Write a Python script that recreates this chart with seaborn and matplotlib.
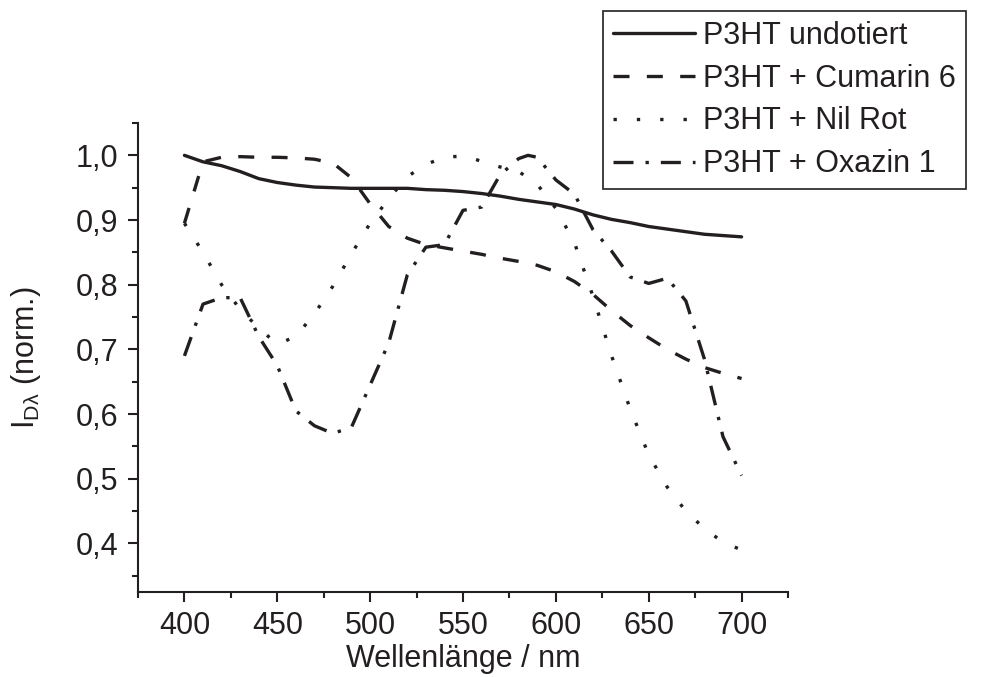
import matplotlib
matplotlib.use("Agg")
import matplotlib.pyplot as plt
import seaborn as sns
import pandas as pd
from matplotlib.ticker import MultipleLocator, FuncFormatter

# ---- data -------------------------------------------------------------
wl_10 = [400, 410, 420, 430, 440, 450, 460, 470, 480, 490, 500, 510, 520,
         530, 540, 550, 560, 570, 580, 590, 600, 610, 620, 630, 640, 650,
         660, 670, 680, 690, 700]

undotiert = [1.000, 0.990, 0.984, 0.975, 0.964, 0.958, 0.954, 0.951, 0.950,
             0.949, 0.949, 0.949, 0.949, 0.947, 0.946, 0.944, 0.941, 0.937,
             0.932, 0.928, 0.924, 0.917, 0.908, 0.901, 0.896, 0.890, 0.886,
             0.882, 0.878, 0.876, 0.874]

cumarin6 = [0.895, 0.990, 0.997, 0.998, 0.997, 0.997, 0.996, 0.994, 0.988,
            0.965, 0.925, 0.890, 0.872, 0.862, 0.857, 0.852, 0.847, 0.841,
            0.836, 0.830, 0.820, 0.805, 0.785, 0.760, 0.737, 0.718, 0.700,
            0.685, 0.672, 0.663, 0.655]

nilrot = [0.895, 0.850, 0.800, 0.762, 0.733, 0.708, 0.720, 0.755, 0.798,
          0.848, 0.895, 0.933, 0.967, 0.986, 0.997, 0.999, 0.991, 0.982,
          0.975, 0.955, 0.918, 0.865, 0.782, 0.690, 0.608, 0.537, 0.487,
          0.450, 0.423, 0.402, 0.390]

wl_oxazin = [400, 410, 420, 430, 440, 450, 460, 470, 480, 490, 500, 510,
             520, 530, 540, 550, 560, 570, 580, 585, 590, 600, 610, 620,
             630, 640, 650, 660, 670, 680, 690, 700]
oxazin1 = [0.690, 0.770, 0.780, 0.780, 0.720, 0.675, 0.605, 0.582, 0.570,
           0.580, 0.645, 0.710, 0.815, 0.858, 0.862, 0.915, 0.920, 0.970,
           0.995, 1.000, 0.997, 0.962, 0.940, 0.885, 0.852, 0.812, 0.802,
           0.810, 0.775, 0.685, 0.565, 0.505]

labels = ["P3HT undotiert", "P3HT + Cumarin 6", "P3HT + Nil Rot",
          "P3HT + Oxazin 1"]
x_ticks = [400, 450, 500, 550, 600, 650, 700]
y_ticks = [0.4, 0.5, 0.6, 0.7, 0.8, 0.9, 1.0]

# ---- style ------------------------------------------------------------
sns.set_theme(style="ticks")
plt.rcParams["font.family"] = ["Liberation Sans", "DejaVu Sans"]
plt.rcParams["mathtext.fontset"] = "custom"
plt.rcParams["mathtext.rm"] = "Liberation Sans"
plt.rcParams["mathtext.it"] = "Liberation Sans"
TXT = "#231f20"
FS = 22

fig = plt.figure(figsize=(9.81, 6.77), dpi=100)
ax = fig.add_axes([138 / 981, 1 - 592 / 677, (788 - 138) / 981,
                   (592 - 123) / 677])

series = [
    (wl_10, undotiert, labels[0], (None, None)),
    (wl_10, cumarin6, labels[1], (4.8, 5.2)),
    (wl_10, nilrot, labels[2], (1.0, 6.0)),
    (wl_oxazin, oxazin1, labels[3], (6.0, 3.6, 1.0, 3.6)),
]

lw = 2.4
for xs, ys, lab, dash in series:
    df = pd.DataFrame({"wl": xs, "val": ys})
    sns.lineplot(data=df, x="wl", y="val", ax=ax, color=TXT, lw=lw,
                 label=lab, legend=False, sort=False)
    line = ax.lines[-1]
    if dash[0] is None:
        line.set_linestyle("-")
    else:
        line.set_dashes(dash)

ax.set_xlim(375, 725)
ax.set_ylim(0.325, 1.05)
ax.xaxis.set_minor_locator(MultipleLocator(25))
ax.set_xticks(x_ticks)
ax.yaxis.set_minor_locator(MultipleLocator(0.05))
ax.set_yticks(y_ticks)
ax.yaxis.set_major_formatter(FuncFormatter(lambda v, p: f"{v:.1f}".replace(".", ",")))

for s in ["top", "right"]:
    ax.spines[s].set_visible(False)
for s in ["left", "bottom"]:
    ax.spines[s].set_linewidth(1.5)
    ax.spines[s].set_color(TXT)

ax.tick_params(axis="both", which="major", direction="out", length=7,
               width=1.5, colors=TXT, labelsize=FS, pad=7)
ax.tick_params(axis="both", which="minor", direction="out", length=4,
               width=1.5, colors=TXT)

ax.set_xlabel("Wellenlänge / nm", fontsize=FS, color=TXT, labelpad=2)
ax.set_ylabel(r"I$_{\mathregular{D\lambda}}$ (norm.)", fontsize=FS,
              color=TXT, labelpad=24)
ax.set_facecolor("white")

handles = ax.lines[:4]
leg = fig.legend(handles=handles, labels=labels, loc="upper left",
                 bbox_to_anchor=(603 / 981, 1 - 11 / 677),
                 bbox_transform=fig.transFigure, fontsize=FS,
                 frameon=True, fancybox=False, framealpha=1,
                 edgecolor=TXT, handlelength=2.7, handletextpad=0.25,
                 labelspacing=0.42, borderpad=0.32, borderaxespad=0)
leg.get_frame().set_linewidth(1.2)
for t in leg.get_texts():
    t.set_color(TXT)

fig.savefig("out.png", dpi=100, facecolor="white")
